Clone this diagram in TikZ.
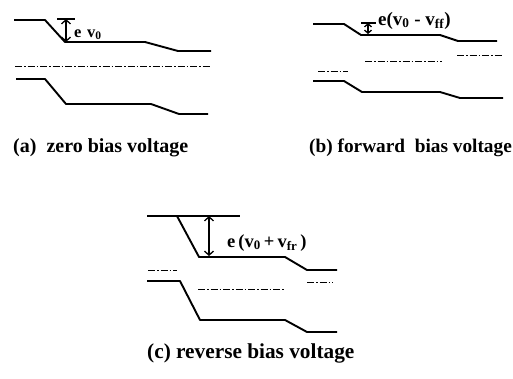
\documentclass[tikz,border=0pt]{standalone}
\usepackage{fontspec}
\setmainfont{Liberation Serif}
\usetikzlibrary{arrows.meta}

\begin{document}
\begin{tikzpicture}[x=1pt, y=-1pt,
  band/.style={line width=1.9pt, line join=round},
  fermi/.style={line width=0.7pt, dash pattern=on 7pt off 2pt on 1.5pt off 2pt},
  gap/.style={{Straight Barb[length=4pt,width=9pt]}-{Straight Barb[length=4pt,width=9pt]}, line width=1.3pt},
  tick/.style={line width=1.3pt},
  lbl/.style={anchor=base west, inner sep=0pt, font=\bfseries\fontsize{19}{20}\selectfont},
  panelcap/.style={anchor=west, inner sep=0pt, font=\bfseries\fontsize{20}{22}\selectfont},
]
\useasboundingbox (0,0) rectangle (513,378);

% (a) zero bias
\draw[band] (14,20) -- (45,20) -- (65,42) -- (145,42) -- (178,51) -- (211,51);
\draw[fermi] (15,66) -- (211,66);
\draw[band] (16,79) -- (45,79) -- (66,104) -- (151,104) -- (179,114) -- (208,114);
\coordinate (atop) at (66,19);
\coordinate (abot) at (66,42);
\draw[tick] (57,19) -- (75,19);
\draw[gap] (atop) -- (abot);
\node[lbl, font=\bfseries\fontsize{16.5}{17}\selectfont] (alab) at (74,37) {e\,\,v\textsubscript{0}};
\node[panelcap] (acap) at (13,148) {(a)\ \ zero bias voltage};

% (b) forward bias
\draw[band] (313,24) -- (344,24) -- (361,35) -- (440,35) -- (458,41) -- (497,41);
\draw[fermi] (318,71) -- (348,71);
\draw[fermi] (365,61) -- (442,61);
\draw[fermi] (457,55) -- (502,55);
\draw[band] (313,81) -- (344,81) -- (362,92) -- (440,92) -- (460,98) -- (503,98);
\coordinate (btop) at (368,23);
\coordinate (bbot) at (368,34);
\draw[tick] (361,23) -- (376,23);
\draw[gap, {Straight Barb[length=3pt,width=7pt]}-{Straight Barb[length=3pt,width=7pt]}] (btop) -- (bbot);
\node[lbl] (blab) at (378,25) {e(v\textsubscript{0} - v\textsubscript{ff})};
\node[panelcap, font=\bfseries\fontsize{19.3}{22}\selectfont] (bcap) at (309,148) {(b) forward\ \ bias voltage};

% (c) reverse bias
\draw[band] (147,216) -- (240,216);
\draw[band] (177,216) -- (199,257) -- (285,257) -- (307,270) -- (337,270);
\draw[fermi] (148,270) -- (177,270);
\draw[fermi] (198,289) -- (285,289);
\draw[fermi] (307,282) -- (333,282);
\draw[band] (147,281) -- (180,281) -- (200,320) -- (285,320) -- (307,332) -- (337,332);
\coordinate (ctop) at (209,216);
\coordinate (cbot) at (209,256);
\draw[gap] (ctop) -- (cbot);
\node[lbl, font=\bfseries\fontsize{18.5}{20}\selectfont] (clab) at (227,247) {e\,(v\textsubscript{0}\,+\,v\textsubscript{fr}\,)};
\node[panelcap, font=\bfseries\fontsize{21.3}{22}\selectfont] (ccap) at (147,353) {(c) reverse bias voltage};
\end{tikzpicture}
\end{document}
